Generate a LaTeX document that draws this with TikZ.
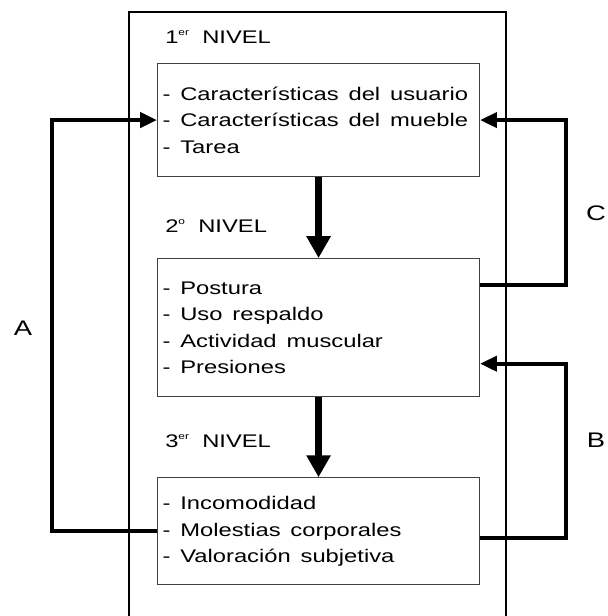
\documentclass[tikz,border=0pt]{standalone}
\usepackage{fontspec}
\setmainfont{Liberation Sans}[FakeStretch=1.3]
\usepackage{tikz}
\usetikzlibrary{positioning,arrows.meta,calc}
\newcommand\nivelfont{\fontsize{13}{18.85}\selectfont}
\newcommand\nivsup[1]{\raisebox{0.75ex}{\fontsize{6.5}{7}\selectfont #1}}

\begin{document}
\begin{tikzpicture}[
  node distance=2.025cm,
  box/.style={draw=black!75, line width=0.8pt, rectangle, align=left, text width=7.8cm, inner xsep=0.125cm, minimum width=8.05cm, font=\nivelfont, execute at begin node={\spaceskip=7pt\relax\hyphenpenalty=10000\relax}},
  level/.style={anchor=base west, inner sep=0pt, font=\nivelfont},
  side/.style={inner sep=0pt, font=\fontsize{15}{18}\selectfont},
  feedback/.style={line width=2.85pt, -{Triangle[length=12pt, width=10.7pt]}},
  flow/.style={line width=5pt, -{Triangle[length=15.6pt, width=16.4pt]}},
  >=Stealth
]
\useasboundingbox (0,0) rectangle (15.2,-15.4);

\draw[line width=1.4pt] (3.225,-15.4) -- (3.225,-0.3) -- (12.65,-0.3) -- (12.65,-15.4);

\node[box, minimum height=2.825cm, anchor=north west] (box1) at (3.925,-1.575) {- Características del usuario\\- Características del mueble\\- Tarea};
\node[box, minimum height=3.45cm, below=2.025cm of box1] (box2) {- Postura\\- Uso respaldo\\- Actividad muscular\\- Presiones};
\node[box, minimum height=2.675cm, below=2cm of box2] (box3) {- Incomodidad\\- Molestias corporales\\- Valoración subjetiva};

\node[level] (lev1) at (4.125,-1.075) {1\nivsup{er}\ \ NIVEL};
\node[level] (lev2) at (4.125,-5.8) {2\nivsup{o}\ \ NIVEL};
\node[level] (lev3) at (4.125,-11.175) {3\nivsup{er}\ \ NIVEL};

\node[side] (labA) at (0.575,-8.2) {A};
\node[side] (labC) at (14.9,-5.325) {C};
\node[side] (labB) at (14.9,-11.0) {B};

\draw[flow] (box1) -- (box2);
\draw[flow] (box2) -- (box3);

\draw[feedback] (box3.west) -- ++(-2.625,0) |- (box1.west);
\draw[feedback] ($(box2.east)+(0,1.075)$) -- ++(2.15,0) |- (box1.east);
\draw[feedback] ($(box3.east)+(0,-0.16)$) -- ++(2.15,0) |- ($(box2.east)+(0,-0.9)$);
\end{tikzpicture}
\end{document}
